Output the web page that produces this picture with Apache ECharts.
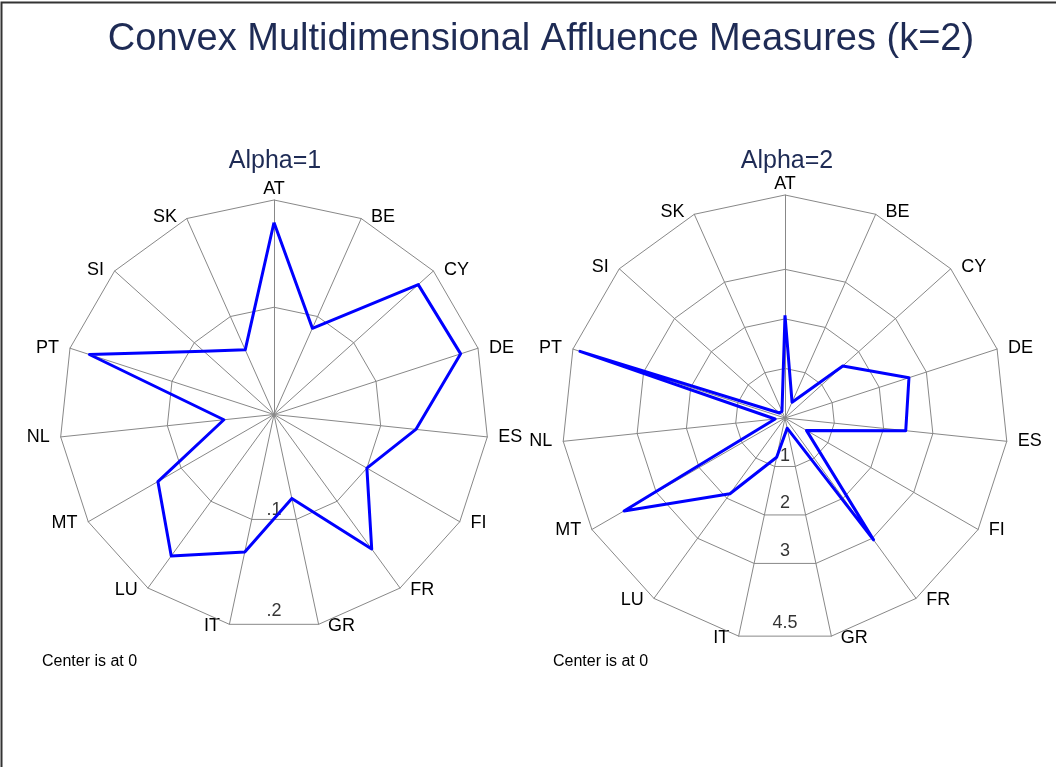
<!DOCTYPE html>
<html>
<head>
<meta charset="utf-8">
<script src="https://cdn.jsdelivr.net/npm/echarts@6/dist/echarts.min.js"></script>
<style>
  html, body { margin: 0; padding: 0; background: #fff; }
  #chart { width: 1056px; height: 767px; }
</style>
</head>
<body>
<div id="chart"></div>
<script>
// countries, clockwise from the top
const countries = ['AT', 'BE', 'CY', 'DE', 'ES', 'FI', 'FR', 'GR', 'IT', 'LU', 'MT', 'NL', 'PT', 'SI', 'SK']
const alpha1Values = [0.179, 0.088, 0.181, 0.183, 0.133, 0.100, 0.155, 0.080, 0.131, 0.163, 0.125, 0.047, 0.181, 0.088, 0.066]
const alpha2Values = [2.07, 0.35, 1.57, 2.63, 2.45, 0.50, 3.04, 0.21, 0.81, 1.89, 3.75, 0.20, 4.35, 0.15, 0.15]
const alpha1Ticks = [0.1, 0.2]
const alpha1TickLabels = ['.1', '.2']
const alpha2Ticks = [1, 2, 3, 4.5]
const alpha2TickLabels = ['1', '2', '3', '4.5']

const FONT = 'Liberation Sans, Arial, sans-serif'
const GRID = '#888888'

// echarts lays radar indicators out counter-clockwise, so flip the tail
function clockwise(arr) {
  return [arr[0]].concat(arr.slice(1).reverse())
}

const panels = [
  { center: [274, 414.5], radius: 214.5, max: 0.2, values: alpha1Values, ticks: alpha1Ticks, labels: alpha1TickLabels },
  { center: [785, 418], radius: 223, max: 4.5, values: alpha2Values, ticks: alpha2Ticks, labels: alpha2TickLabels }
]

const radar = []
const polar = []
const angleAxis = []
const radiusAxis = []
const series = []

panels.forEach((p, i) => {
  radar.push({
    center: p.center,
    radius: p.radius,
    startAngle: 90,
    shape: 'polygon',
    splitNumber: 1,
    nameGap: 2,
    axisName: { color: '#000', fontSize: 18, fontFamily: FONT, padding: [0, 9] },
    indicator: clockwise(countries).map(name => ({ name: name, min: 0, max: p.max })),
    axisLine: { lineStyle: { color: GRID, width: 1 } },
    splitLine: { show: false },
    splitArea: { show: false },
    axisTick: { show: false },
    axisLabel: { show: false }
  })
  polar.push({ center: p.center, radius: p.radius })
  angleAxis.push({
    polarIndex: i, type: 'value', min: 0, max: 360, startAngle: 90,
    show: false, axisLine: { show: false }, splitLine: { show: false }, axisLabel: { show: false }, axisTick: { show: false }
  })
  radiusAxis.push({
    polarIndex: i, type: 'value', min: 0, max: p.max,
    show: false, axisLine: { show: false }, splitLine: { show: false }, axisLabel: { show: false }, axisTick: { show: false }
  })

  // grid rings at the tick values
  p.ticks.forEach(t => {
    series.push({
      type: 'radar',
      radarIndex: i,
      silent: true,
      symbol: 'none',
      z: 1,
      lineStyle: { color: GRID, width: 1 },
      data: [{ value: countries.map(() => t) }]
    })
  })

  // tick labels, placed just inside the bottom edge
  const first = p.ticks[0]
  series.push({
    type: 'scatter',
    coordinateSystem: 'polar',
    polarIndex: i,
    symbolSize: 0,
    silent: true,
    data: p.ticks.map((t, k) => ({
      value: [t, 180],
      label: { distance: 3 + 6 * (t - first) / (p.max - first) }
    })),
    label: {
      show: true,
      position: 'top',
      color: '#000',
      fontSize: 18,
      fontFamily: FONT,
      formatter: params => p.labels[params.dataIndex]
    }
  })

  series.push({
    type: 'radar',
    radarIndex: i,
    symbol: 'none',
    z: 3,
    lineStyle: { color: '#0000ff', width: 3 },
    data: [{ value: clockwise(p.values) }]
  })
})

const chart = echarts.init(document.getElementById('chart'))
chart.setOption({
  backgroundColor: '#fff',
  animation: false,
  graphic: [
    {
      type: 'rect',
      shape: { x: 1.5, y: 2.5, width: 1080, height: 800 },
      style: { fill: null, stroke: '#333', lineWidth: 2 },
      silent: true
    },
    {
      type: 'text', x: 541, y: 40,
      style: { text: 'Convex Multidimensional Affluence Measures (k=2)', fill: '#1e2b55', font: '38px ' + FONT, textAlign: 'center', textVerticalAlign: 'middle' }
    },
    {
      type: 'text', x: 275, y: 161,
      style: { text: 'Alpha=1', fill: '#1e2b55', font: '25px ' + FONT, textAlign: 'center', textVerticalAlign: 'middle' }
    },
    {
      type: 'text', x: 787, y: 161,
      style: { text: 'Alpha=2', fill: '#1e2b55', font: '25px ' + FONT, textAlign: 'center', textVerticalAlign: 'middle' }
    },
    {
      type: 'text', x: 42, y: 662,
      style: { text: 'Center is at 0', fill: '#000', font: '16px ' + FONT, textAlign: 'left', textVerticalAlign: 'middle' }
    },
    {
      type: 'text', x: 553, y: 662,
      style: { text: 'Center is at 0', fill: '#000', font: '16px ' + FONT, textAlign: 'left', textVerticalAlign: 'middle' }
    }
  ],
  radar: radar,
  polar: polar,
  angleAxis: angleAxis,
  radiusAxis: radiusAxis,
  series: series
})
</script>
</body>
</html>
